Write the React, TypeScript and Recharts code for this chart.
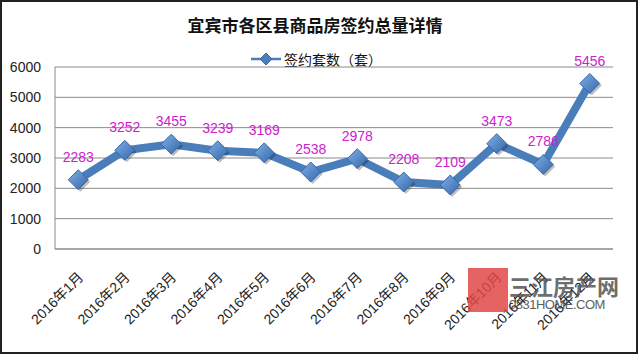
import React from 'react';
import { LineChart, Line, XAxis, YAxis, CartesianGrid, LabelList } from 'recharts';

const months = ['2016年1月', '2016年2月', '2016年3月', '2016年4月', '2016年5月', '2016年6月',
  '2016年7月', '2016年8月', '2016年9月', '2016年10月', '2016年11月', '2016年12月'];
const sales = [2283, 3252, 3455, 3239, 3169, 2538, 2978, 2208, 2109, 3473, 2786, 5456];
const yTicks = [0, 1000, 2000, 3000, 4000, 5000, 6000];

const data = months.map((m, i) => ({ month: m, sales: sales[i] }));

const FONT = '"Liberation Sans", "Noto Sans CJK SC", sans-serif';
const BLUE = '#4a7ebb';

const Diamond = (props: any) => {
  const { cx, cy } = props;
  if (cx == null || cy == null) return null;
  const r = 10;
  return (
    <g>
      <polygon
        points={`${cx + 2},${cy - r + 2} ${cx + r + 2},${cy + 2} ${cx + 2},${cy + r + 2} ${cx - r + 2},${cy + 2}`}
        fill="rgba(0,0,0,0.25)"
      />
      <polygon
        points={`${cx},${cy - r} ${cx + r},${cy} ${cx},${cy + r} ${cx - r},${cy}`}
        fill="url(#dia)"
        stroke="#3a69a6"
        strokeWidth={1}
      />
    </g>
  );
};

const MonthTick = (props: any) => {
  const { x, y, payload } = props;
  const ax = x + 6;
  const ay = y + 21;
  return (
    <text
      x={ax}
      y={ay}
      textAnchor="end"
      fontSize={14}
      fontFamily={FONT}
      fill="#222"
      transform={`rotate(-45, ${ax}, ${ay})`}
    >
      {payload.value}
    </text>
  );
};

export default function App() {
  return (
    <div style={{ position: 'absolute', left: 0, top: 0, width: 640, height: 354, background: '#fff' }}>
      <div style={{ position: 'absolute', left: 0, top: 0, width: 634, height: 350, border: '2px solid #222' }} />
      <div style={{ position: 'absolute', left: 0, top: 12, width: 630, textAlign: 'center', fontFamily: FONT, fontWeight: 'bold', fontSize: 17, color: '#111' }}>
        宜宾市各区县商品房签约总量详情
      </div>
      <div style={{ position: 'absolute', left: 251, top: 49, display: 'flex', alignItems: 'center', fontFamily: FONT, fontSize: 14, color: '#111' }}>
        <svg width={30} height={16} style={{ marginRight: 3 }}>
          <line x1={0} y1={8} x2={30} y2={8} stroke={BLUE} strokeWidth={2.5} />
          <polygon points="15,2 21,8 15,14 9,8" fill={BLUE} stroke="#3a69a6" />
        </svg>
        <span>签约套数（套）</span>
      </div>
      <LineChart width={640} height={354} data={data} margin={{ top: 67, right: 27, bottom: 0, left: 5 }}>
        <defs>
          <linearGradient id="dia" x1="0" y1="0" x2="1" y2="1">
            <stop offset="0%" stopColor="#7fb0e8" />
            <stop offset="100%" stopColor="#3466a8" />
          </linearGradient>
        </defs>
        <CartesianGrid vertical={false} stroke="#8a8a8a" />
        <XAxis
          dataKey="month"
          scale="band"
          height={105}
          interval={0}
          tickLine={false}
          axisLine={{ stroke: '#8a8a8a' }}
          tick={<MonthTick />}
        />
        <YAxis
          width={50}
          domain={[0, 6000]}
          ticks={yTicks}
          tickLine={false}
          tickSize={0}
          tickMargin={14}
          axisLine={{ stroke: '#8a8a8a' }}
          tick={{ fontSize: 14, fontFamily: FONT, fill: '#222' }}
        />
        <Line
          dataKey="sales"
          stroke={BLUE}
          strokeWidth={8}
          dot={<Diamond />}
          activeDot={false}
          isAnimationActive={false}
        >
          <LabelList dataKey="sales" position="top" offset={18} fill="#cc22cc" fontSize={14} fontFamily={FONT} />
        </Line>
      </LineChart>
      <div style={{ position: 'absolute', left: 468, top: 268, width: 40, height: 44, background: '#e04848', opacity: 0.85 }} />
      <div style={{ position: 'absolute', left: 509, top: 269, fontFamily: FONT, fontSize: 22, fontWeight: 'bold', color: '#555', opacity: 0.85 }}>
        三江房产网
      </div>
      <div style={{ position: 'absolute', left: 509, top: 297, fontFamily: FONT, fontSize: 13, color: '#444', opacity: 0.85, letterSpacing: -0.5 }}>
        0831HOME.COM
      </div>
    </div>
  );
}
